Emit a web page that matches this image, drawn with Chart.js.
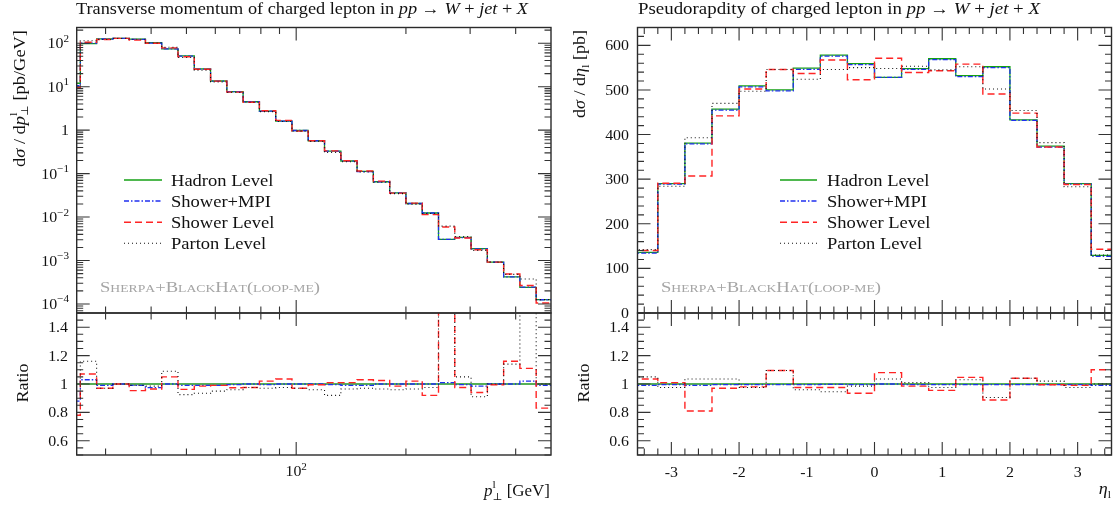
<!DOCTYPE html>
<html>
<head>
<meta charset="utf-8">
<script src="https://cdn.jsdelivr.net/npm/chart.js@4.4.1/dist/chart.umd.min.js"></script>
<style>
  html, body { margin: 0; padding: 0; background: #fff; }
  #wrap { position: relative; width: 1120px; height: 506px; }
  canvas { position: absolute; left: 0; top: 0; }
</style>
</head>
<body>
<div id="wrap">
  <canvas id="ptMain" width="1120" height="506"></canvas>
  <canvas id="ptRatio" width="1120" height="506"></canvas>
  <canvas id="etaMain" width="1120" height="506"></canvas>
  <canvas id="etaRatio" width="1120" height="506"></canvas>
</div>
<script>
const W = 1120, H = 506;

// ---- lepton pT, bin edges in GeV, values in pb/GeV
const ptEdges = [23.08, 25.58, 28.35, 31.42, 34.82, 38.59, 42.77, 47.40, 52.54, 58.23, 64.53,
  71.52, 79.27, 87.86, 97.37, 107.9, 119.6, 132.6, 146.9, 162.8, 180.5,
  200.0, 221.7, 245.7, 272.3, 301.8, 334.5, 370.7, 410.8, 455.3, 504.6];
const ptHadron = [12, 98, 126, 129, 124, 103, 74, 51, 25.6, 13.5, 7.7, 4.5, 2.75, 1.62, 0.98,
  0.57, 0.33, 0.195, 0.112, 0.065, 0.036, 0.0205, 0.0124, 0.00305, 0.0034, 0.00188,
  0.00092, 0.00042, 0.00024, 0.000126];
const ptShowerMPI = [10.5, 101, 125, 129, 123, 100, 74, 50.5, 25.3, 13.4, 7.7, 4.5, 2.74, 1.62, 0.98,
  0.57, 0.328, 0.193, 0.111, 0.065, 0.036, 0.0205, 0.0124, 0.00308, 0.00338, 0.00185,
  0.00092, 0.00042, 0.000245, 0.000125];
const ptShower = [9.5, 105, 122, 129, 118, 100, 78, 49, 25.2, 13.4, 7.5, 4.4, 2.8, 1.68, 0.95,
  0.57, 0.333, 0.197, 0.115, 0.067, 0.0355, 0.0209, 0.0114, 0.0059, 0.0033, 0.00177,
  0.00092, 0.00049, 0.000266, 0.000105];
const ptParton = [10.8, 114, 122, 129, 123, 101, 81, 47, 24, 12.8, 7.4, 4.4, 2.67, 1.58, 0.95,
  0.55, 0.305, 0.188, 0.109, 0.063, 0.0346, 0.0198, 0.0121, 0.0062, 0.00357, 0.00171,
  0.00092, 0.00048, 0.000377, 0.000126];
// ratios to hadron level
const ptRatioShowerMPI = [0.88, 1.03, 0.99, 1.0, 0.99, 0.975, 1.0, 0.99, 0.99, 0.99, 0.995, 1.0,
  0.995, 1.0, 1.0, 1.0, 0.995, 0.99, 0.99, 1.0, 1.0, 1.0, 1.0, 1.01, 0.995, 0.985, 1.0, 1.0, 1.02, 0.99];
const ptRatioShower = [0.78, 1.07, 0.97, 1.0, 0.953, 0.965, 1.05, 0.962, 0.985, 0.99, 0.974, 0.975,
  1.02, 1.035, 0.97, 0.995, 1.01, 1.01, 1.03, 1.025, 0.985, 1.02, 0.92, 1.93, 0.975, 0.94,
  0.995, 1.16, 1.11, 0.83];
const ptRatioParton = [0.9, 1.16, 0.97, 1.0, 0.99, 0.985, 1.09, 0.925, 0.935, 0.95, 0.96, 0.975,
  0.97, 0.975, 0.97, 0.96, 0.92, 0.965, 0.97, 0.965, 0.96, 0.965, 0.975, 2.0, 1.05, 0.91,
  1.0, 1.14, 1.57, 1.0];

// ---- lepton pseudorapidity, values in pb
const etaEdges = [-3.6, -3.2, -2.8, -2.4, -2.0, -1.6, -1.2, -0.8, -0.4, 0, 0.4, 0.8, 1.2, 1.6, 2.0, 2.4, 2.8, 3.2, 3.6];
const etaHadron = [136, 290, 381, 457, 509, 500, 549, 578, 559, 528, 548, 570, 532, 552, 433, 374, 290, 129];
const etaShowerMPI = [134, 289, 379, 455, 507, 498, 546, 576, 557, 528, 546, 568, 530, 550, 432, 372, 289, 127];
const etaShower = [140, 291, 307, 442, 502, 546, 537, 567, 523, 571, 539, 543, 558, 491, 448, 372, 288, 143];
const etaParton = [142, 284, 393, 470, 497, 546, 524, 546, 550, 548, 553, 545, 552, 502, 454, 382, 283, 130];
const etaRatioShowerMPI = [0.99, 0.995, 0.99, 0.995, 0.995, 0.995, 0.995, 0.997, 0.995, 1.0, 0.995, 0.995, 0.995, 0.995, 0.995, 0.995, 0.995, 0.99];
const etaRatioShower = [1.035, 1.01, 0.81, 0.97, 0.98, 1.095, 0.975, 0.975, 0.935, 1.08, 0.985, 0.955, 1.047, 0.887, 1.04, 0.995, 0.99, 1.10];
const etaRatioParton = [1.05, 0.975, 1.035, 1.035, 0.975, 1.095, 0.96, 0.945, 0.985, 1.035, 1.01, 0.975, 1.03, 0.905, 1.04, 1.02, 0.975, 1.0];

const seriesNames = ['Hadron Level', 'Shower+MPI', 'Shower Level', 'Parton Level'];

// ---- tick labels
const ptLogLabels = [-4, -3, -2, -1, 0, 1, 2];       // exponents of 10 on the pT y axis
const ptXMajor = [100];
const ptXMinor = [30, 40, 50, 60, 70, 80, 90, 200, 300, 400];
const etaXLabels = [-3, -2, -1, 0, 1, 2, 3];
const etaYLabels = [0, 100, 200, 300, 400, 500, 600];
const ratioLabels = [0.6, 0.8, 1, 1.2, 1.4];

const STY = [
  { borderColor: '#14a014', borderWidth: 1.3, borderDash: [] },
  { borderColor: '#1f2ff0', borderWidth: 1.3, borderDash: [5, 2, 1.5, 2] },
  { borderColor: '#ff2424', borderWidth: 1.4, borderDash: [7, 4] },
  { borderColor: '#111111', borderWidth: 1.1, borderDash: [1, 3] }
];

const SERIF = '"Liberation Serif", "DejaVu Serif", serif';
function f(size, it) { return (it ? 'italic ' : '') + size + 'px ' + SERIF; }

function steps(edges, vals) {
  const pts = vals.map((v, i) => ({ x: edges[i], y: v }));
  pts.push({ x: edges[vals.length], y: vals[vals.length - 1] });
  return pts;
}
function sets(edges, list) {
  return list.map((vals, i) => Object.assign({
    data: steps(edges, vals), stepped: true, fill: false, pointRadius: 0, order: 4 - i
  }, STY[i]));
}
function refLine(edges, n) {
  const ones = new Array(n).fill(1);
  return { data: steps(edges, ones), stepped: true, fill: false, pointRadius: 0, order: 5,
    borderColor: 'rgba(30,150,30,0.75)', borderWidth: 2.2 };
}

// ---- text helpers
function runWidth(ctx, parts) {
  let w = 0;
  for (const p of parts) { ctx.font = p.f; if (!p.stack) w += ctx.measureText(p.t).width; }
  return w;
}
function drawRun(ctx, parts, x, y, o) {
  o = o || {};
  ctx.save();
  ctx.translate(x, y);
  if (o.rot) ctx.rotate(o.rot);
  const nat = runWidth(ctx, parts);
  const sx = o.width ? o.width / nat : (o.sx || 1.06);
  const tw = nat * sx;
  ctx.translate(o.align === 'right' ? -tw : o.align === 'center' ? -tw / 2 : 0, 0);
  ctx.scale(sx, 1);
  ctx.fillStyle = o.color || '#111';
  ctx.textAlign = 'left';
  ctx.textBaseline = 'alphabetic';
  let cx = 0;
  for (const p of parts) {
    ctx.font = p.f;
    ctx.fillText(p.t, cx, p.dy || 0);
    if (!p.stack) cx += ctx.measureText(p.t).width;
  }
  ctx.restore();
}
function smallCaps(str, big, small) {
  return str.split('').map(ch => (ch >= 'a' && ch <= 'z') || ch === '-'
    ? { t: ch.toUpperCase(), f: f(small) } : { t: ch, f: f(big) });
}
function txt(t, size, it, dy, stack) { return { t: t, f: f(size, it), dy: dy || 0, stack: !!stack }; }

function title(ctx, first, x, w) {
  drawRun(ctx, [txt(first + ' of charged lepton in ', 16), txt('pp', 16, true), txt(' \u2192 ', 16),
    txt('W', 16, true), txt(' + ', 16), txt('jet', 16, true), txt(' + ', 16), txt('X', 16, true)],
    x, 14, { width: w });
}
function legend(ctx, x0, x1, tx) {
  const rows = [180, 201, 222.3, 243.3];
  seriesNames.forEach((name, i) => {
    ctx.save();
    ctx.strokeStyle = STY[i].borderColor;
    ctx.lineWidth = STY[i].borderWidth;
    ctx.setLineDash(STY[i].borderDash);
    ctx.beginPath(); ctx.moveTo(x0, rows[i]); ctx.lineTo(x1, rows[i]); ctx.stroke();
    ctx.restore();
    drawRun(ctx, [txt(name, 17)], tx, rows[i] + 5.5, { sx: 1.09 });
  });
}
function sherpa(ctx, x) {
  drawRun(ctx, smallCaps('Sherpa+BlackHat(loop-me)', 15, 11), x, 292, { width: 220, color: '#a5a5a5' });
}

// ---- frame and ticks
function frame(ctx, ca) {
  ctx.strokeStyle = '#2a2a2a';
  ctx.lineWidth = 1.4;
  ctx.strokeRect(ca.left, ca.top, ca.right - ca.left, ca.bottom - ca.top);
}
function ticksX(ctx, ca, s, vals, len) {
  ctx.strokeStyle = '#333'; ctx.lineWidth = 1.1;
  ctx.beginPath();
  for (const v of vals) {
    const p = s.getPixelForValue(v);
    if (p < ca.left - 0.5 || p > ca.right + 0.5) continue;
    ctx.moveTo(p, ca.bottom); ctx.lineTo(p, ca.bottom - len);
    ctx.moveTo(p, ca.top); ctx.lineTo(p, ca.top + len);
  }
  ctx.stroke();
}
function ticksY(ctx, ca, s, vals, len) {
  ctx.strokeStyle = '#333'; ctx.lineWidth = 1.1;
  ctx.beginPath();
  for (const v of vals) {
    const p = s.getPixelForValue(v);
    if (p < ca.top - 0.5 || p > ca.bottom + 0.5) continue;
    ctx.moveTo(ca.left, p); ctx.lineTo(ca.left + len, p);
    ctx.moveTo(ca.right, p); ctx.lineTo(ca.right - len, p);
  }
  ctx.stroke();
}
function range(a, b, st) { const out = []; for (let v = a; v <= b + 1e-9; v += st) out.push(+v.toFixed(4)); return out; }

const MAJ = 13, MIN = 6.5;

function ratioY(ctx, ca, sy, labelX) {
  ticksY(ctx, ca, sy, ratioLabels, MAJ);
  ticksY(ctx, ca, sy, range(0.5, 1.5, 0.05).filter(v => !ratioLabels.some(l => Math.abs(l - v) < 1e-6)), MIN);
  ratioLabels.forEach(v => drawRun(ctx, [txt(String(v), 15)], labelX, sy.getPixelForValue(v) + 5, { align: 'right' }));
}

function deco(draw) {
  return { id: 'deco', afterDraw(chart) {
    const ctx = chart.ctx;
    ctx.save();
    draw(ctx, chart.chartArea, chart.scales.x, chart.scales.y);
    ctx.restore();
  } };
}

function makeChart(id, area, xs, ys, datasets, plugin) {
  return new Chart(document.getElementById(id), {
    type: 'line',
    data: { datasets: datasets },
    options: {
      responsive: false, animation: false, devicePixelRatio: 1,
      layout: { padding: { left: area.l, top: area.t, right: W - area.r, bottom: H - area.b } },
      plugins: { legend: { display: false }, tooltip: { enabled: false } },
      elements: { point: { radius: 0 }, line: { tension: 0 } },
      scales: { x: Object.assign({ display: false }, xs), y: Object.assign({ display: false }, ys) }
    },
    plugins: [plugin]
  });
}

const ptX = { type: 'logarithmic', min: 25, max: 500 };
const etaX = { type: 'linear', min: -3.5, max: 3.5 };
const ratioYScale = { type: 'linear', min: 0.5, max: 1.5 };

const logMinor = [];
for (let d = -5; d <= 2; d++) for (let k = 2; k <= 9; k++) logMinor.push(k * Math.pow(10, d));

// ---- pT main
makeChart('ptMain', { l: 76.7, r: 551, t: 27.5, b: 313 }, ptX,
  { type: 'logarithmic', min: 6.2e-5, max: 230 },
  sets(ptEdges, [ptHadron, ptShowerMPI, ptShower, ptParton]),
  deco((ctx, ca, sx, sy) => {
    frame(ctx, ca);
    ticksY(ctx, ca, sy, ptLogLabels.map(e => Math.pow(10, e)), MAJ);
    ticksY(ctx, ca, sy, logMinor, MIN);
    ticksX(ctx, ca, sx, ptXMajor, MAJ);
    ticksX(ctx, ca, sx, ptXMinor, MIN);
    ptLogLabels.forEach(e => {
      const y = sy.getPixelForValue(Math.pow(10, e)) + 5;
      const parts = e === 0 ? [txt('1', 15)] : [txt('10', 15), txt(e < 0 ? '\u2212' + (-e) : String(e), 10.5, false, -6.5)];
      drawRun(ctx, parts, 69, y, { align: 'right' });
    });
    title(ctx, 'Transverse momentum', 76, 452);
    drawRun(ctx, [txt('d', 16), txt('\u03c3', 16, true), txt(' / d', 16), txt('p', 16, true),
      txt('l', 11, false, -7.5, true), txt('\u22a5', 10, false, 3.5), txt(' [pb/GeV]', 16)],
      24.5, 30, { rot: -Math.PI / 2, align: 'right', width: 137 });
    legend(ctx, 124, 162, 171);
    sherpa(ctx, 100);
  }));

// ---- pT ratio
makeChart('ptRatio', { l: 76.7, r: 551, t: 313, b: 455 }, ptX, ratioYScale,
  sets(ptEdges, [ptHadron.map(() => 1), ptRatioShowerMPI, ptRatioShower, ptRatioParton]).slice(1)
    .concat([refLine(ptEdges, ptHadron.length)]),
  deco((ctx, ca, sx, sy) => {
    frame(ctx, ca);
    ratioY(ctx, ca, sy, 68);
    ticksX(ctx, ca, sx, ptXMajor, MAJ);
    ticksX(ctx, ca, sx, ptXMinor, MIN);
    ptXMajor.forEach(v => drawRun(ctx, [txt('10', 15), txt('2', 10.5, false, -6.5)],
      sx.getPixelForValue(v), 476, { align: 'center' }));
    drawRun(ctx, [txt('Ratio', 17)], 27.5, 383, { rot: -Math.PI / 2, align: 'center' });
    drawRun(ctx, [txt('p', 16, true), txt('l', 11, false, -8, true), txt('\u22a5', 10, false, 4),
      txt(' [GeV]', 16)], 550, 496, { align: 'right', width: 66 });
  }));

// ---- eta main
makeChart('etaMain', { l: 637.5, r: 1111.5, t: 27.5, b: 313 }, etaX,
  { type: 'linear', min: 0, max: 640 },
  sets(etaEdges, [etaHadron, etaShowerMPI, etaShower, etaParton]),
  deco((ctx, ca, sx, sy) => {
    frame(ctx, ca);
    ticksY(ctx, ca, sy, etaYLabels, MAJ);
    ticksY(ctx, ca, sy, range(0, 640, 20).filter(v => v % 100 !== 0), MIN);
    ticksX(ctx, ca, sx, etaXLabels, MAJ);
    ticksX(ctx, ca, sx, range(-3.4, 3.4, 0.2).filter(v => Math.abs(v - Math.round(v)) > 1e-6), MIN);
    etaYLabels.forEach(v => drawRun(ctx, [txt(String(v), 15)], 629, sy.getPixelForValue(v) + 5, { align: 'right' }));
    title(ctx, 'Pseudorapdity', 638, 402);
    drawRun(ctx, [txt('d', 16), txt('\u03c3', 16, true), txt(' / d', 16), txt('\u03b7', 16, true),
      txt('l', 11, false, 3.5), txt(' [pb]', 16)],
      585, 30, { rot: -Math.PI / 2, align: 'right', width: 88 });
    legend(ctx, 780, 817, 827);
    sherpa(ctx, 661);
  }));

// ---- eta ratio
makeChart('etaRatio', { l: 637.5, r: 1111.5, t: 313, b: 455 }, etaX, ratioYScale,
  sets(etaEdges, [etaHadron.map(() => 1), etaRatioShowerMPI, etaRatioShower, etaRatioParton]).slice(1)
    .concat([refLine(etaEdges, etaHadron.length)]),
  deco((ctx, ca, sx, sy) => {
    frame(ctx, ca);
    ratioY(ctx, ca, sy, 629);
    ticksX(ctx, ca, sx, etaXLabels, MAJ);
    ticksX(ctx, ca, sx, range(-3.4, 3.4, 0.2).filter(v => Math.abs(v - Math.round(v)) > 1e-6), MIN);
    etaXLabels.forEach(v => drawRun(ctx, [txt(String(v), 15)], sx.getPixelForValue(v), 477, { align: 'center' }));
    drawRun(ctx, [txt('Ratio', 17)], 589, 383, { rot: -Math.PI / 2, align: 'center' });
    drawRun(ctx, [txt('\u03b7', 17, true), txt('l', 11, false, 4)], 1111, 494, { align: 'right' });
  }));
</script>
</body>
</html>
